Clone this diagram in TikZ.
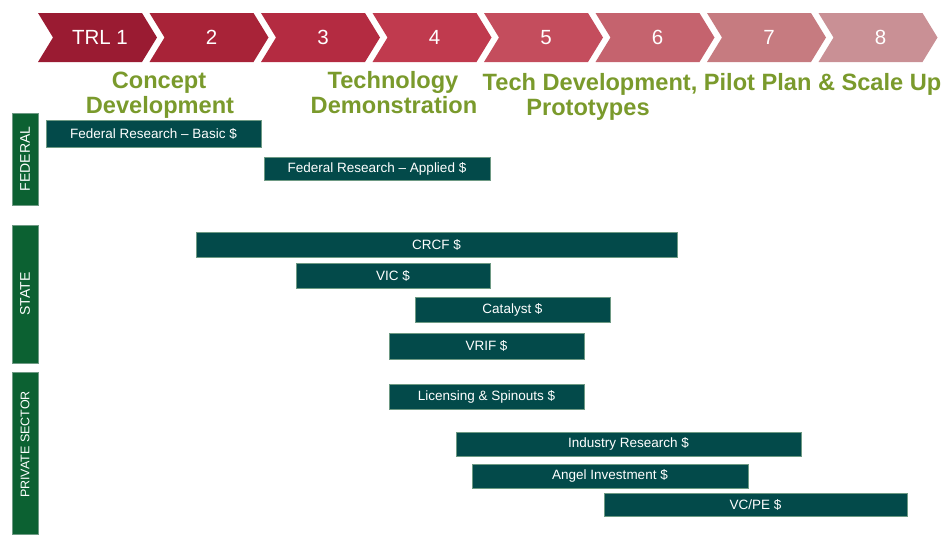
\documentclass[tikz,border=0pt]{standalone}
\usepackage{fontspec}
\setmainfont{Liberation Sans}
\definecolor{c1}{HTML}{9A1B32}
\definecolor{c2}{HTML}{A82338}
\definecolor{c3}{HTML}{B42B41}
\definecolor{c4}{HTML}{C03A4E}
\definecolor{c5}{HTML}{C44D5D}
\definecolor{c6}{HTML}{C5636E}
\definecolor{c7}{HTML}{C67B80}
\definecolor{c8}{HTML}{C99095}
\definecolor{headgreen}{HTML}{7A9A2C}
\definecolor{sidegreen}{HTML}{0C6132}
\definecolor{barteal}{HTML}{034A4A}
\definecolor{baredge}{HTML}{6E9A84}
\newcommand{\fundbox}[6]{%
  \node[fund, minimum width={(#4-#2)*1pt}, minimum height={(#5-#3)*1pt}]
    (#1) at ({(#2+#4)/2},{(#3+#5)/2}) {#6};}
\begin{document}
\begin{tikzpicture}[x=1pt,y=-1pt,
  chevtext/.style={text=white, font=\fontsize{20.5}{21}\selectfont, inner sep=0},
  heading/.style={text=headgreen, font=\bfseries\fontsize{23.6}{24}\selectfont, inner sep=0, anchor=base},
  fund/.style={fill=barteal, draw=baredge, line width=0.6pt, text=white,
    font=\fontsize{13.5}{14}\selectfont, inner sep=0},
  sidebox/.style={fill=sidegreen, draw=baredge, line width=0.6pt, text=white, rotate=90,
    font=\fontsize{14}{15}\selectfont, inner sep=0, minimum height=26pt}]
\useasboundingbox (0,0) rectangle (947,539);
% chevrons
\foreach \i/\c/\t in {1/c1/TRL 1,2/c2/2,3/c3/3,4/c4/4,5/c5/5,6/c6/6,7/c7/7,8/c8/8}{
  \pgfmathsetmacro\L{38+111.5*(\i-1)}
  \fill[\c] (\L,13) -- ++(104,0) -- ++(15,24.5) -- ++(-15,24.5) -- ++(-104,0) -- ++(15,-24.5) -- cycle;
  \node[chevtext] (chev\i) at ({\L+62},37.5) {\t};
}
% headings
\node[heading] (h1a) at (159,88) {Concept};
\node[heading] (h1b) at (160,113) {Development};
\node[heading] (h2a) at (393,88) {Technology};
\node[heading] (h2b) at (394,113) {Demonstration};
\node[heading] (h3a) at (712,90) {Tech Development, Pilot Plan \& Scale Up};
\node[heading] (h3b) at (588,115) {Prototypes};
% side labels
\node[sidebox, minimum width=92pt] (federal) at (25,159) {FEDERAL};
\node[sidebox, minimum width=138pt] (state) at (25,294) {STATE};
\node[sidebox, minimum width=162pt, font=\fontsize{12.5}{13}\selectfont] (private) at (25,453) {\hspace*{17pt}PRIVATE SECTOR};
% funding bars
\fundbox{fb}{46}{120}{261}{147}{Federal Research -- Basic \$}
\fundbox{fa}{264}{157}{490}{180}{Federal Research -- Applied \$}
\fundbox{crcf}{196}{232}{677}{257}{CRCF \$}
\fundbox{vic}{296}{263}{490}{288}{VIC \$}
\fundbox{cat}{415}{297}{610}{322}{Catalyst \$}
\fundbox{vrif}{389}{333}{584}{359}{VRIF \$}
\fundbox{lic}{389}{384}{584}{409}{Licensing \& Spinouts \$}
\fundbox{ind}{456}{432}{801}{456}{Industry Research \$}
\fundbox{angel}{472}{464}{748}{488}{Angel Investment \$}
\fundbox{vc}{604}{493}{907}{516}{VC/PE \$}
\end{tikzpicture}
\end{document}
